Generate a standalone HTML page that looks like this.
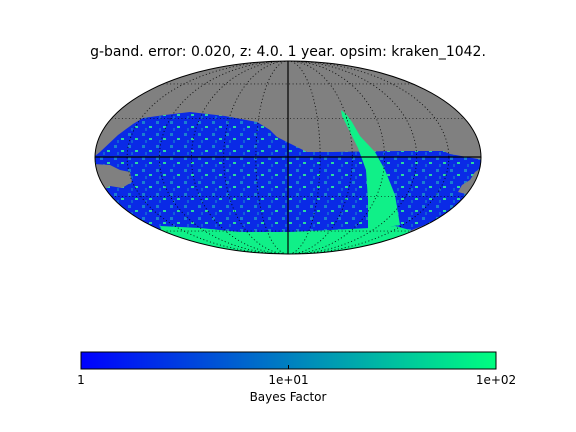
<!DOCTYPE html>
<html><head><meta charset="utf-8"><style>
html,body{margin:0;padding:0;background:#fff;}
svg{display:block;font-family:"DejaVu Sans","Liberation Sans",sans-serif;}
</style></head><body>
<svg id="fig" width="576" height="432" viewBox="0 0 576 432">
<defs>
  <clipPath id="sky"><ellipse cx="288" cy="157.5" rx="193" ry="96.5"/></clipPath>
  <linearGradient id="cmap" x1="0" x2="1" y1="0" y2="0">
    <stop offset="0" stop-color="#0000ff"/>
    <stop offset="0.5" stop-color="#0080c0"/>
    <stop offset="1" stop-color="#00ff80"/>
  </linearGradient>
  <pattern id="speck" width="14" height="12" patternUnits="userSpaceOnUse">
    <rect width="14" height="12" fill="#0a2ae6"/>
    <rect x="2" y="1" width="3" height="3" fill="#1a7fd0"/>
    <rect x="9" y="6" width="3" height="2" fill="#2bd8a0"/>
    <rect x="5" y="8" width="2" height="3" fill="#1160d8"/>
  </pattern>
</defs>
<text x="288" y="56" text-anchor="middle" font-size="14">g-band. error: 0.020, z: 4.0. 1 year. opsim: kraken_1042.</text>

<g clip-path="url(#sky)">
  <rect x="90" y="55" width="400" height="205" fill="#808080"/>
  <polygon fill="url(#speck)"
    points="95,156 100,152 118,135 133,124 143,118 165,115 190,112 225,116 257,122 270,130 277,137 295,146 307,152 330,152 400,151 443,151 450,154 484,160 478,172 470,195 450,215 407,232 300,260 160,245 90,210"/>
  <polygon fill="#808080"
    points="92,164 110,165 120,170 130,172 132,182 122,188 110,186 100,192 92,190"/>
  <polygon fill="#808080"
    points="486,165 475,172 470,180 462,185 458,192 470,195 486,180"/>
  <polygon fill="#10f088"
    points="160,226 200,228 240,232 290,232 330,230 370,228 395,226 410,230 400,262 170,262"/>
  <polygon fill="#10f088"
    points="341,110 346,114 352,122 360,136 375,152 385,170 395,195 400,225 368,230 368,200 366,170 358,148 348,128 342,116"/>
  <g fill="none" stroke="#000" stroke-width="0.8" stroke-dasharray="1,2.5" opacity="0.8" id="grat"></g>
  <line x1="95" y1="157" x2="481" y2="157" stroke="#000" stroke-width="1.2"/>
  <line x1="288" y1="61" x2="288" y2="254" stroke="#000" stroke-width="1.2"/>
</g>
<ellipse cx="288" cy="157.5" rx="193" ry="96.5" fill="none" stroke="#000" stroke-width="1"/>

<rect x="81" y="352" width="415" height="17" fill="url(#cmap)" stroke="#000" stroke-width="1"/>
<g id="cbticks"></g>
<text x="288" y="401" text-anchor="middle" font-size="12">Bayes Factor</text>
</svg>
<script>
const tickValues = [1, 10, 100];
const tickLabels = ["1", "1e+01", "1e+02"];
const meridianLons = [-150,-120,-90,-60,-30,30,60,90,120,150];
const parallelLats = [-60,-30,30,60];

const ns = "http://www.w3.org/2000/svg";
const cx = 288, cy = 157.5, rx = 193, ry = 96.5;
function cbX(v){ return 81 + (Math.log10(v) - 0) / 2 * 415; }
function mollTheta(lat){
  const phi = lat*Math.PI/180; let t = phi;
  for (let i=0;i<50;i++){ const f=2*t+Math.sin(2*t)-Math.PI*Math.sin(phi); const d=2+2*Math.cos(2*t); if (Math.abs(d)<1e-9) break; t-=f/d; }
  return t;
}
const grat = document.getElementById('grat');
meridianLons.forEach(lon => {
  const e = document.createElementNS(ns,'ellipse');
  e.setAttribute('cx', cx); e.setAttribute('cy', cy);
  e.setAttribute('rx', Math.abs(rx*lon/180)); e.setAttribute('ry', ry);
  
  
  grat.appendChild(e);
});
parallelLats.forEach(lat => {
  const t = mollTheta(lat);
  const y = cy - ry*Math.sin(t), hw = rx*Math.cos(t);
  const l = document.createElementNS(ns,'line');
  l.setAttribute('x1', cx-hw); l.setAttribute('x2', cx+hw);
  l.setAttribute('y1', y); l.setAttribute('y2', y);
  
  
  grat.appendChild(l);
});
const cb = document.getElementById('cbticks');
tickValues.forEach((v,i) => {
  const x = cbX(v);
  const tk = document.createElementNS(ns,'line');
  tk.setAttribute('x1', x); tk.setAttribute('x2', x);
  tk.setAttribute('y1', 369); tk.setAttribute('y2', 365);
  tk.setAttribute('stroke', '#000');
  
  
  cb.appendChild(tk);
  const t = document.createElementNS(ns,'text');
  t.setAttribute('x', x); t.setAttribute('y', 384);
  t.setAttribute('text-anchor', 'middle'); t.setAttribute('font-size', '12');
  t.textContent = tickLabels[i];
  
  
  cb.appendChild(t);
});
</script>
</body></html>
